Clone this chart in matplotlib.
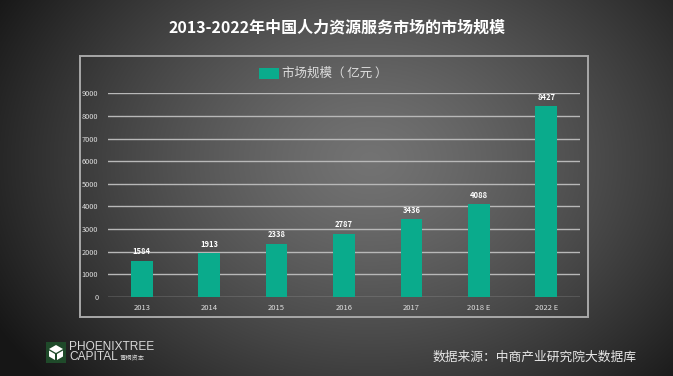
import numpy as np
import matplotlib
matplotlib.use("Agg")
import matplotlib.pyplot as plt
from matplotlib.patches import Rectangle, Polygon

plt.rcParams['font.family'] = ['Noto Sans CJK SC', 'DejaVu Sans']

# data
years = ['2013', '2014', '2015', '2016', '2017', '2018 E', '2022 E']
market_size = [1584, 1913, 2338, 2787, 3436, 4088, 8427]
yticks = [0, 1000, 2000, 3000, 4000, 5000, 6000, 7000, 8000, 9000]

W, H = 673, 376
fig = plt.figure(figsize=(W / 100, H / 100), dpi=100)

# radial grey background
bg = fig.add_axes([0, 0, 1, 1])
yy, xx = np.mgrid[0:H, 0:W]
d = np.sqrt(((xx - 370) / 430.0) ** 2 + ((yy - 160) / 330.0) ** 2)
shade = np.clip(0.45 - 0.36 * d ** 1.3, 0.09, 0.5)
bg.imshow(np.dstack([shade] * 3), extent=[0, W, H, 0], aspect='auto')
bg.set_xlim(0, W)
bg.set_ylim(H, 0)
bg.axis('off')

# frame around the chart
bg.add_patch(Rectangle((80, 56), 508, 261, fill=False, ec='#a8a8a8', lw=1.4))

bg.text(337, 27, '2013-2022年中国人力资源服务市场的市场规模', color='white',
        fontsize=11.5, fontweight='bold', ha='center', va='center')

# legend
bg.add_patch(Rectangle((259, 68), 20, 11, color='#0aab8c', lw=0))
bg.text(282, 73.5, '市场规模（ 亿元 ）', color='#dedede', fontsize=9, ha='left', va='center')

# source
bg.text(637, 357, '数据来源：中商产业研究院大数据库', color='#e6e6e6',
        fontsize=9.2, ha='right', va='center')

# logo
bg.add_patch(Rectangle((46, 342), 20, 21, color='#1f4a2a', lw=0))
bg.add_patch(Polygon([[56, 345], [63, 349], [56, 353], [49, 349]], color='white', lw=0))
bg.add_patch(Polygon([[49, 350.5], [55, 354], [55, 360], [49, 356.5]], color='white', lw=0))
bg.add_patch(Polygon([[63, 350.5], [57, 354], [57, 360], [63, 356.5]], color='white', lw=0))
bg.text(69, 346.5, 'PHOENIXTREE', color='#d8d8d8', fontsize=8.6, ha='left', va='center',
        family='Liberation Sans')
bg.text(69, 357.5, 'CAPITAL', color='#d8d8d8', fontsize=8.6, ha='left', va='center',
        family='Liberation Sans')
bg.text(120, 358, '青桐资本', color='#d8d8d8', fontsize=4.5, ha='left', va='center')

# main plot
x0, x1, ytop, ybot = 108, 580, 93.3, 296.7
ax = fig.add_axes([x0 / W, 1 - ybot / H, (x1 - x0) / W, (ybot - ytop) / H])
ax.patch.set_alpha(0)
pos = np.arange(len(years))
bars = ax.bar(pos, market_size, width=0.32, color='#0aab8c', zorder=3)
ax.set_xlim(-0.5, len(years) - 0.5)
ax.set_ylim(0, 9000)
ax.set_yticks(yticks)
ax.set_yticklabels([str(v) for v in yticks])
ax.set_xticks(pos)
ax.set_xticklabels(years)
ax.grid(axis='y', color='#b8b8b8', lw=1.0, zorder=0)
for s in ax.spines.values():
    s.set_visible(False)
ax.tick_params(axis='y', length=0, pad=7, labelsize=5.3, labelcolor='#e0e0e0')
ax.tick_params(axis='x', length=0, pad=5, labelsize=5.5, labelcolor='#e0e0e0')
for b, v in zip(bars, market_size):
    ax.text(b.get_x() + b.get_width() / 2, v + 200, str(v), color='white',
            fontsize=5.5, fontweight='bold', ha='center', va='bottom')

fig.savefig('out.png', dpi=100)
